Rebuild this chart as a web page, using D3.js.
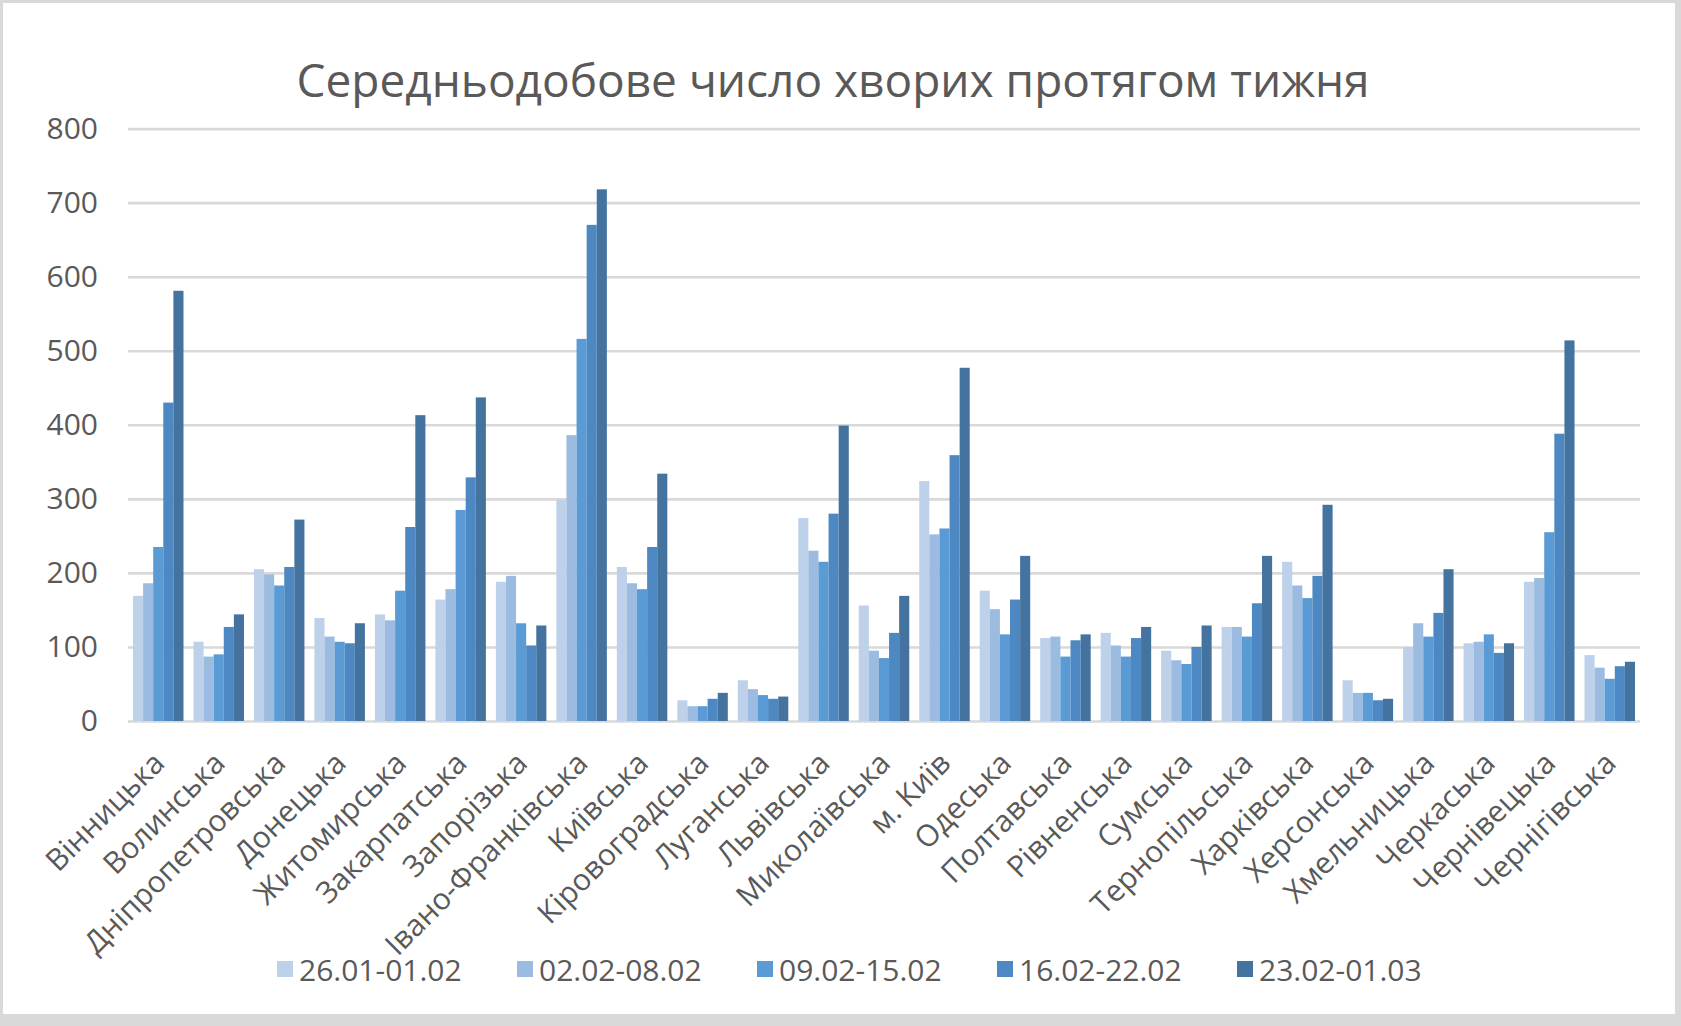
<!DOCTYPE html>
<html>
<head>
<meta charset="utf-8">
<script src="https://cdn.jsdelivr.net/npm/d3@7"></script>
<style>
  html, body { margin: 0; padding: 0; background: #ffffff; }
  svg { display: block; }
  text { font-family: "Open Sans", "Noto Sans", sans-serif; fill: #595959; }
</style>
</head>
<body>
<svg id="chart" width="1681" height="1026"></svg>
<script>
const categories = ["Вінницька","Волинська","Дніпропетровська","Донецька","Житомирська","Закарпатська","Запорізька","Івано-Франківська","Київська","Кіровоградська","Луганська","Львівська","Миколаївська","м. Київ","Одеська","Полтавська","Рівненська","Сумська","Тернопільська","Харківська","Херсонська","Хмельницька","Черкаська","Чернівецька","Чернігівська"];
const seriesNames = ["26.01-01.02","02.02-08.02","09.02-15.02","16.02-22.02","23.02-01.03"];
const week1 = [169,107,205,139,144,164,188,299,208,28,55,274,156,324,176,112,119,95,127,215,55,100,105,188,89];
const week2 = [186,87,198,114,136,178,196,386,186,20,43,230,95,252,151,114,102,82,127,183,38,132,107,193,72];
const week3 = [235,90,183,107,176,285,132,516,178,20,35,215,85,260,117,87,87,77,114,166,38,114,117,255,57];
const week4 = [430,127,208,105,262,329,102,670,235,30,30,280,119,359,164,109,112,100,159,196,28,146,92,388,74];
const week5 = [581,144,272,132,413,437,129,718,334,38,33,399,169,477,223,117,127,129,223,292,30,205,105,514,80];
const yTicks = [0,100,200,300,400,500,600,700,800];
const titleText = "Середньодобове число хворих протягом тижня";

const series = [week1, week2, week3, week4, week5];
const colors = ["#bdd1ea","#9cbbe0","#5b9bd5","#4d88c2","#44739f"];

const W = 1681, H = 1026;
const plot = {left: 128, right: 1640, top: 128.6, bottom: 721};

const svg = d3.select("#chart");

// outer frame
svg.append("rect").attr("x",0).attr("y",0).attr("width",W).attr("height",H).attr("fill","#d9d9d9");
svg.append("rect").attr("x",3).attr("y",3).attr("width",W-9).attr("height",H-15).attr("fill","#ffffff");

// title
svg.append("text")
  .attr("x", 833).attr("y", 97)
  .attr("text-anchor","middle")
  .style("font-size","46px")
  .text(titleText);

const y = d3.scaleLinear().domain([0, 800]).range([plot.bottom, plot.top]);
const x0 = d3.scaleBand().domain(categories).range([plot.left, plot.right]).paddingInner(0.165).paddingOuter(0.0825);
const x1 = d3.scaleBand().domain(d3.range(series.length)).range([0, x0.bandwidth()]).padding(0);

// y axis with gridlines
const yAxis = svg.append("g")
  .attr("transform", `translate(${plot.left},0)`)
  .call(d3.axisLeft(y).tickValues(yTicks).tickSize(-(plot.right - plot.left)).tickPadding(30).tickFormat(d3.format("d")));
yAxis.select(".domain").remove();
yAxis.selectAll(".tick line").attr("stroke","#d9d9d9").attr("stroke-width",2.6);
yAxis.selectAll(".tick text").style("font-size","30px").attr("fill","#595959");

// bars
const groups = svg.append("g").selectAll("g")
  .data(categories)
  .join("g")
  .attr("transform", d => `translate(${x0(d)},0)`);

groups.selectAll("rect")
  .data((d, i) => series.map((s, k) => ({k: k, v: s[i]})))
  .join("rect")
  .attr("x", d => x1(d.k))
  .attr("width", x1.bandwidth())
  .attr("y", d => y(d.v))
  .attr("height", d => y(0) - y(d.v))
  .attr("fill", d => colors[d.k]);

// x axis labels
const xAxis = svg.append("g")
  .attr("transform", `translate(0,${plot.bottom})`)
  .call(d3.axisBottom(x0).tickSize(0).tickPadding(0));
xAxis.select(".domain").remove();
xAxis.selectAll(".tick text")
  .attr("x", 0).attr("y", 0).attr("dy", null)
  .attr("text-anchor", "end")
  .attr("transform", "translate(8,44) rotate(-45)")
  .style("font-size", "30px")
  .attr("fill", "#595959");

// legend
const legend = svg.append("g");
const legendItems = legend.selectAll("g")
  .data(seriesNames)
  .join("g")
  .attr("transform", (d, i) => `translate(${277 + i * 240},0)`);
legendItems.append("rect")
  .attr("x", 0).attr("y", 961).attr("width", 16).attr("height", 16)
  .attr("fill", (d, i) => colors[i]);
legendItems.append("text")
  .attr("x", 22).attr("y", 969)
  .attr("dominant-baseline", "central")
  .style("font-size", "30px")
  .text(d => d);
</script>
</body>
</html>
